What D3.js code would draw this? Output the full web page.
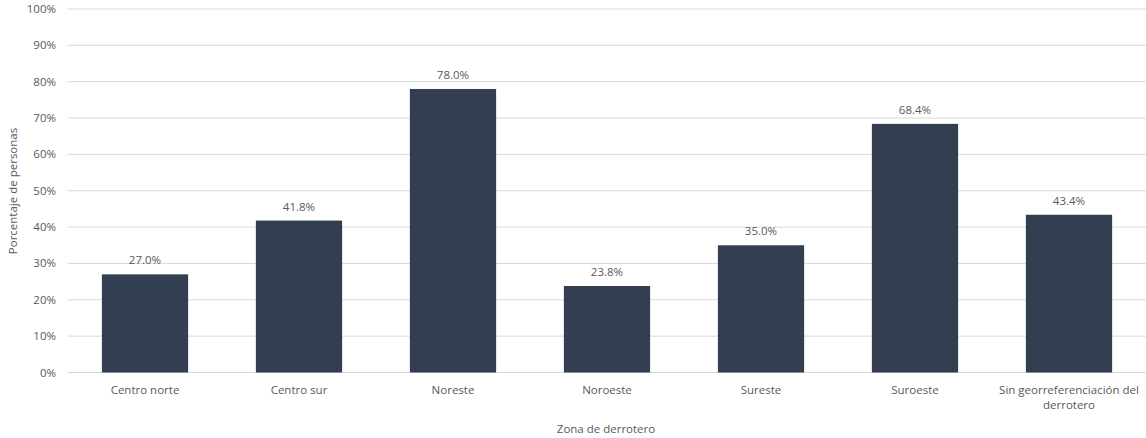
<!DOCTYPE html>
<html><head><meta charset="utf-8">
<script src="https://cdn.jsdelivr.net/npm/d3@7/dist/d3.min.js"></script>
<style>body{margin:0;background:#fff;} text{font-family:"Open Sans",sans-serif;}</style>
</head><body><svg id="c" width="1146" height="438"></svg>
<script>
const categories = ["Centro norte","Centro sur","Noreste","Noroeste","Sureste","Suroeste","Sin georreferenciación del derrotero"];
const values = [27.0, 41.8, 78.0, 23.8, 35.0, 68.4, 43.4];
const yTicks = [0,10,20,30,40,50,60,70,80,90,100];

(function(){
const svg = d3.select("#c");
const mLeft = 68, mRight = 1146, mTop = 9, mBottom = 372.5;
const fs = 11.5;
const x = d3.scaleBand().domain(categories).range([mLeft, mRight]).paddingInner(0.44).paddingOuter(0.22);
const y = d3.scaleLinear().domain([0,100]).range([mBottom, mTop]);
const txt = "#595959";

svg.append("g").selectAll("line").data(yTicks).join("line")
  .attr("x1", mLeft).attr("x2", mRight).attr("y1", d=>y(d)).attr("y2", d=>y(d))
  .attr("stroke", "#d9d9d9").attr("stroke-width", 1);

svg.append("g").selectAll("text").data(yTicks).join("text")
  .attr("x", 56).attr("y", d=>y(d)).attr("dy","0.35em").attr("text-anchor","end")
  .attr("fill", txt).attr("font-size", fs).text(d=>d+"%");

svg.append("g").selectAll("rect").data(values).join("rect")
  .attr("x", (d,i)=>x(categories[i])).attr("width", x.bandwidth())
  .attr("y", d=>y(d)).attr("height", d=>y(0)-y(d)).attr("fill", "#333f50");

svg.append("g").selectAll("text").data(values).join("text")
  .attr("x", (d,i)=>x(categories[i])+x.bandwidth()/2).attr("y", d=>y(d)-10)
  .attr("text-anchor","middle").attr("fill", txt).attr("font-size", fs)
  .text(d=>d.toFixed(1)+"%");

const cl = svg.append("g").selectAll("text").data(categories).join("text")
  .attr("x", d=>x(d)+x.bandwidth()/2).attr("y", 394)
  .attr("text-anchor","middle").attr("fill", txt).attr("font-size", fs);
cl.each(function(d){
  const t = d3.select(this);
  if (d.length > 20) {
    t.append("tspan").attr("x", x(d)+x.bandwidth()/2).text("Sin georreferenciación del");
    t.append("tspan").attr("x", x(d)+x.bandwidth()/2).attr("dy", 15).text("derrotero");
  } else t.text(d);
});

svg.append("text").attr("x", 606).attr("y", 433).attr("text-anchor","middle")
  .attr("fill", txt).attr("font-size", fs).text("Zona de derrotero");
svg.append("text").attr("transform","translate(17,191) rotate(-90)").attr("text-anchor","middle")
  .attr("fill", txt).attr("font-size", fs).text("Porcentaje de personas");
})();
</script></body></html>
